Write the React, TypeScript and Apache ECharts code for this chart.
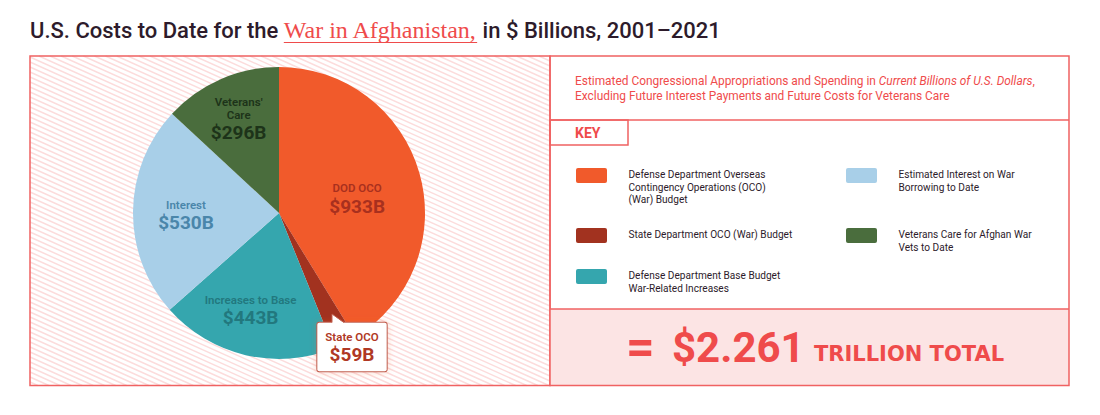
import React, { useEffect, useRef } from "react";
import * as echarts from "echarts";

// ---- Data ----
const categories = ["DOD OCO", "State OCO", "Increases to Base", "Interest", "Veterans'\nCare"];
const values = [933, 59, 443, 530, 296];
const keyLabels = [
  "Defense Department Overseas\nContingency Operations (OCO)\n(War) Budget",
  "State Department OCO (War) Budget",
  "Defense Department Base Budget\nWar-Related Increases",
  "Estimated Interest on War\nBorrowing to Date",
  "Veterans Care for Afghan War\nVets to Date",
];
const titleParts = ["U.S. Costs to Date for the ", "War in Afghanistan,", " in $ Billions, 2001–2021"];
const noteLine1 = ["Estimated Congressional Appropriations and Spending in ", "Current Billions of U.S. Dollars", ","];
const noteLine2 = "Excluding Future Interest Payments and Future Costs for Veterans Care";

// ---- Styles ----
const sliceColors = ["#f15a2b", "#a2321f", "#35a6ae", "#a8cfe8", "#4a6d3d"];
const labelColors = ["#a8301e", "#b03824", "#22787e", "#4a86aa", "#1d3319"];
const labelShift: number[][] = [[5, 7], [0, 0], [-11, 24], [-17, 4], [-10, -24]];
const RED = "#ef4b4b";
const BORDER = "#f06262";
const DARK = "#2d1b2b";
const SANS = "Roboto, 'Noto Sans', sans-serif";

function measure(text: string, font: string): number {
  const ctx = document.createElement("canvas").getContext("2d");
  if (!ctx) return text.length * 10;
  ctx.font = font;
  return ctx.measureText(text).width;
}

export default function App() {
  const ref = useRef<HTMLDivElement>(null);

  useEffect(() => {
    if (!ref.current) return;
    const chart = echarts.init(ref.current, undefined, { renderer: "svg" });

    const graphics: any[] = [];

    // hatch for left panel
    const L = 30, R = 550, T = 56, B = 385.5, s = 0.45, step = 5;
    for (let c = T - s * R; c <= B - s * L; c += step) {
      const x1 = Math.max(L, (T - c) / s);
      const x2 = Math.min(R, (B - c) / s);
      if (x2 <= x1) continue;
      graphics.push({
        type: "line", silent: true, z: 0,
        shape: { x1, y1: s * x1 + c, x2, y2: s * x2 + c },
        style: { stroke: "#fcdcdc", lineWidth: 1.5 },
      });
    }
    // left border
    graphics.push({ type: "rect", z: 1, silent: true, shape: { x: L, y: T, width: R - L, height: B - T },
      style: { fill: "none", stroke: BORDER, lineWidth: 1.5 } });
    // right panel
    graphics.push({ type: "rect", z: 1, silent: true, shape: { x: 550, y: 309, width: 519, height: 76.5 },
      style: { fill: "#fce4e4", stroke: "none" } });
    graphics.push({ type: "rect", z: 1, silent: true, shape: { x: 550, y: T, width: 519, height: B - T },
      style: { fill: "none", stroke: BORDER, lineWidth: 1.5 } });
    graphics.push({ type: "line", z: 1, silent: true, shape: { x1: 550, y1: 120, x2: 1069, y2: 120 },
      style: { stroke: BORDER, lineWidth: 1.5 } });
    graphics.push({ type: "line", z: 1, silent: true, shape: { x1: 550, y1: 309, x2: 1069, y2: 309 },
      style: { stroke: BORDER, lineWidth: 1.5 } });
    graphics.push({ type: "rect", z: 1, silent: true, shape: { x: 550, y: 120, width: 78, height: 25 },
      style: { fill: "none", stroke: BORDER, lineWidth: 1.5 } });

    // title
    const w1 = measure(titleParts[0], `500 22px ${SANS}`);
    const w2 = measure(titleParts[1], `24px 'Liberation Serif'`);
    graphics.push({
      type: "text", z: 5, x: 30, y: 30,
      style: {
        text: `{a|${titleParts[0]}}{b|${titleParts[1]}}{a|${titleParts[2]}}`,
        verticalAlign: "middle",
        rich: {
          a: { fontFamily: SANS, fontSize: 22, fontWeight: 500, fill: DARK },
          b: { fontFamily: "'Liberation Serif', serif", fontSize: 24, fill: RED },
        },
      },
    });
    graphics.push({ type: "line", z: 5, silent: true,
      shape: { x1: 30 + w1, y1: 42.5, x2: 30 + w1 + w2, y2: 42.5 },
      style: { stroke: RED, lineWidth: 1.2 } });

    // note
    graphics.push({
      type: "text", z: 5, x: 575, y: 73.5,
      style: {
        text: `{r|${noteLine1[0]}}{i|${noteLine1[1]}}{r|${noteLine1[2]}}\n{r|${noteLine2}}`,
        verticalAlign: "top",
        rich: {
          r: { fontFamily: SANS, fontSize: 11.9, fill: RED, lineHeight: 15 },
          i: { fontFamily: SANS, fontSize: 11.9, fill: RED, lineHeight: 15, fontStyle: "italic" },
        },
      },
    });
    graphics.push({ type: "text", z: 5, x: 575, y: 133,
      style: { text: "KEY", fontFamily: SANS, fontSize: 14, fontWeight: 700, fill: RED, verticalAlign: "middle" } });

    // key items
    const slots = [[576, 168], [576, 228], [576, 269], [846, 168], [846, 228]];
    keyLabels.forEach((lab, i) => {
      const [x, y] = slots[i];
      graphics.push({ type: "rect", z: 5, silent: true, shape: { x, y, width: 31, height: 15, r: 2 },
        style: { fill: sliceColors[i] } });
      graphics.push({ type: "text", z: 5, x: x + 52.5, y: y + 0.5,
        style: { text: lab, fontFamily: SANS, fontSize: 10.1, lineHeight: 12.5, fill: DARK, verticalAlign: "top" } });
    });

    // total
    const total = values.reduce((a, b) => a + b, 0) / 1000;
    graphics.push({ type: "text", z: 5, x: 626, y: 347,
      style: { text: "=", fontFamily: SANS, fontSize: 50, fontWeight: 700, fill: RED, verticalAlign: "middle" } });
    graphics.push({ type: "text", z: 5, x: 672, y: 347,
      style: { text: `$${total.toFixed(3)}`, fontFamily: SANS, fontSize: 42, fontWeight: 700, fill: RED, verticalAlign: "middle" } });
    graphics.push({ type: "text", z: 5, x: 814, y: 354,
      style: { text: "TRILLION TOTAL", fontFamily: "'DejaVu Sans', sans-serif", fontSize: 21, fontWeight: 700, fill: RED, verticalAlign: "middle" } });

    // callout pointer
    graphics.push({ type: "polygon", z: 100, silent: true,
      shape: { points: [[332, 323], [332, 314], [344, 323]] }, style: { fill: "#fff", stroke: "none" } });
    graphics.push({ type: "polyline", z: 100, silent: true,
      shape: { points: [[332, 322.5], [332, 314], [344, 322.5]] }, style: { fill: "none", stroke: "#c0604f", lineWidth: 1 } });

    const mkRich = (color: string) => ({
      n: { fontFamily: SANS, fontSize: 11.5, fontWeight: 600, lineHeight: 13.5, color },
      v: { fontFamily: SANS, fontSize: 19, fontWeight: 700, lineHeight: 22, color },
    });

    chart.setOption({
      animation: false,
      graphic: { elements: graphics },
      series: [
        {
          type: "pie",
          z: 2,
          silent: true,
          center: [279, 213],
          radius: 146,
          startAngle: 90,
          clockwise: true,
          avoidLabelOverlap: false,
          emphasis: { disabled: true },
          labelLine: { show: false },
          label: {
            show: true,
            position: "inside",
            formatter: (p: any) => `{n|${p.name}}\n{v|$${p.value}B}`,
          },
          labelLayout: (p: any) => {
            const i = p.dataIndex;
            if (i === 1) return { x: 352, y: 347, align: "center", verticalAlign: "middle" };
            return { dx: labelShift[i][0], dy: labelShift[i][1] };
          },
          data: categories.map((name, i) => ({
            name,
            value: values[i],
            itemStyle: { color: sliceColors[i] },
            label:
              i === 1
                ? {
                    color: labelColors[i],
                    backgroundColor: "#fff",
                    borderColor: "#c0604f",
                    borderWidth: 1,
                    borderRadius: 2,
                    padding: [7, 8, 6, 8],
                    shadowColor: "rgba(241,90,43,0.25)",
                    shadowBlur: 6,
                    rich: mkRich(labelColors[i]),
                  }
                : { color: labelColors[i], rich: mkRich(labelColors[i]) },
          })),
        },
      ],
    });

    return () => chart.dispose();
  }, []);

  return (
    <div
      ref={ref}
      style={{ position: "absolute", left: 0, top: 0, width: 1100, height: 415, background: "#fff" }}
    />
  );
}
